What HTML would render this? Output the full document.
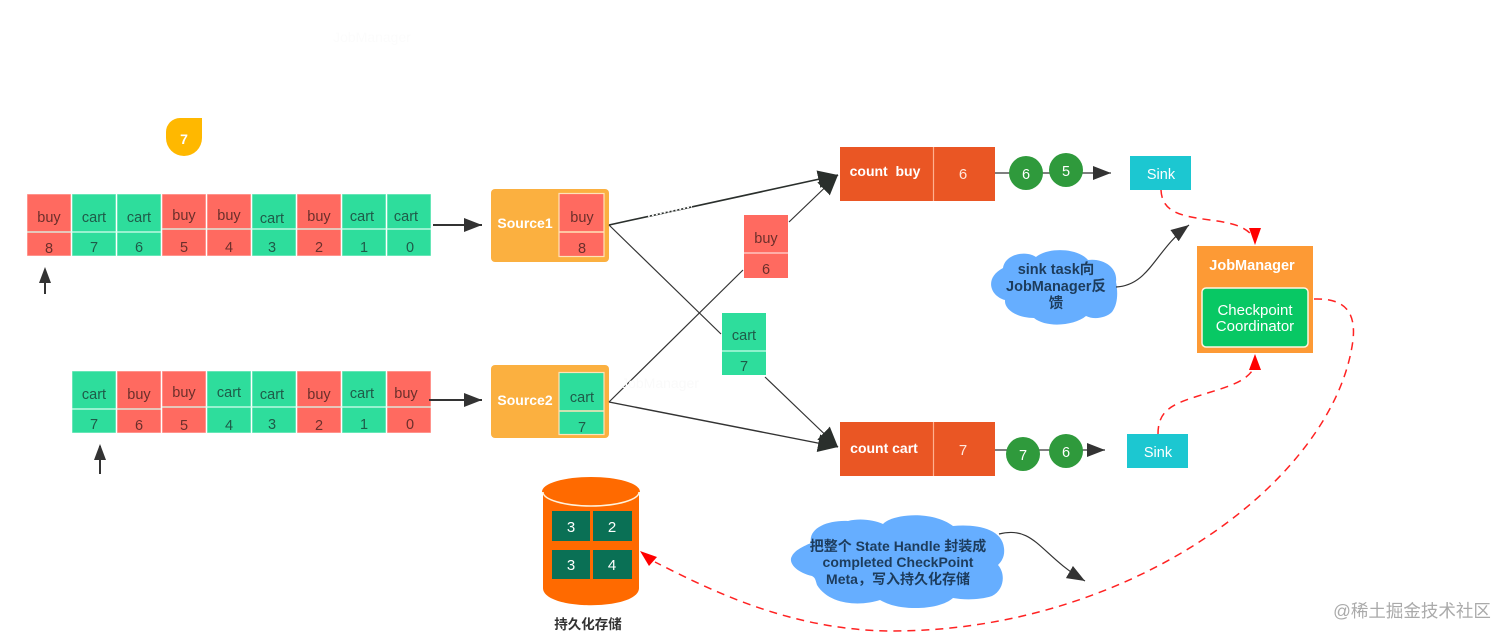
<!DOCTYPE html>
<html><head><meta charset="utf-8"><style>
html,body{margin:0;padding:0;background:#fff;width:1512px;height:641px;overflow:hidden}
svg{display:block}
text{font-family:"Liberation Sans","Noto Sans CJK SC",sans-serif;text-anchor:middle}
.c{font-size:14.5px;fill:#5a3a36}
.g{fill:#1f5a48}
.r{fill:#6b2f2b}
.cl{font-size:14px;font-weight:700;fill:#1d3c5c}
</style></head><body>
<svg width="1512" height="641" viewBox="0 0 1512 641" xmlns="http://www.w3.org/2000/svg">
<defs>
<marker id="ar" markerUnits="userSpaceOnUse" markerWidth="20" markerHeight="14" refX="18" refY="7" orient="auto"><path d="M0 0L18 7L0 14z" fill="#333"/></marker>
<marker id="ab" markerUnits="userSpaceOnUse" markerWidth="22" markerHeight="20" refX="20" refY="10" orient="auto"><path d="M0 1L20 10L0 19z" fill="#2a2f2c"/></marker>
</defs>
<text x="372" y="42" font-size="14" fill="#fcfcfc">JobManager</text>
<path d="M180 118H202V138A18 18 0 0 1 166 138V132A14 14 0 0 1 180 118Z" fill="#ffb800"/>
<text x="184" y="144" font-size="14" font-weight="700" fill="#fff">7</text>

<!-- row 1 -->
<g stroke="#fff" stroke-opacity=".55" stroke-width="1">
<rect x="27" y="194" width="44" height="62" fill="#ff6a60"/>
<rect x="72" y="194" width="44" height="62" fill="#2edd9c"/>
<rect x="117" y="194" width="44" height="62" fill="#2edd9c"/>
<rect x="162" y="194" width="44" height="62" fill="#ff6a60"/>
<rect x="207" y="194" width="44" height="62" fill="#ff6a60"/>
<rect x="252" y="194" width="44" height="62" fill="#2edd9c"/>
<rect x="297" y="194" width="44" height="62" fill="#ff6a60"/>
<rect x="342" y="194" width="44" height="62" fill="#2edd9c"/>
<rect x="387" y="194" width="44" height="62" fill="#2edd9c"/>
</g>
<path d="M27 232H161M162 229H431" stroke="#d8fff0" stroke-width="1.2"/>
<g class="c">
<text class="r" x="49" y="222">buy</text><text class="g" x="94" y="222">cart</text><text class="g" x="139" y="222">cart</text><text class="r" x="184" y="220">buy</text><text class="r" x="229" y="220">buy</text><text class="g" x="272" y="223">cart</text><text class="r" x="319" y="221">buy</text><text class="g" x="362" y="221">cart</text><text class="g" x="406" y="221">cart</text>
<text class="r" x="49" y="253">8</text><text class="g" x="94" y="252">7</text><text class="g" x="139" y="252">6</text><text class="r" x="184" y="252">5</text><text class="r" x="229" y="252">4</text><text class="g" x="272" y="252">3</text><text class="r" x="319" y="252">2</text><text class="g" x="364" y="252">1</text><text class="g" x="410" y="252">0</text>
</g>

<!-- row 2 -->
<g stroke="#fff" stroke-opacity=".55" stroke-width="1">
<rect x="72" y="371" width="44" height="62" fill="#2edd9c"/>
<rect x="117" y="371" width="44" height="62" fill="#ff6a60"/>
<rect x="162" y="371" width="44" height="62" fill="#ff6a60"/>
<rect x="207" y="371" width="44" height="62" fill="#2edd9c"/>
<rect x="252" y="371" width="44" height="62" fill="#2edd9c"/>
<rect x="297" y="371" width="44" height="62" fill="#ff6a60"/>
<rect x="342" y="371" width="44" height="62" fill="#2edd9c"/>
<rect x="387" y="371" width="44" height="62" fill="#ff6a60"/>
</g>
<path d="M72 409H161M162 407H431" stroke="#d8fff0" stroke-width="1.2"/>
<g class="c">
<text class="g" x="94" y="399">cart</text><text class="r" x="139" y="399">buy</text><text class="r" x="184" y="397">buy</text><text class="g" x="229" y="397">cart</text><text class="g" x="272" y="399">cart</text><text class="r" x="319" y="399">buy</text><text class="g" x="362" y="398">cart</text><text class="r" x="406" y="398">buy</text>
<text class="g" x="94" y="429">7</text><text class="r" x="139" y="430">6</text><text class="r" x="184" y="430">5</text><text class="g" x="229" y="430">4</text><text class="g" x="272" y="429">3</text><text class="r" x="319" y="430">2</text><text class="g" x="364" y="429">1</text><text class="r" x="410" y="429">0</text>
</g>

<!-- pointer arrows -->
<path d="M45 294V270" stroke="#333" stroke-width="2" fill="none"/><path d="M45 267L39 283H51Z" fill="#333"/>
<path d="M100 474V446" stroke="#333" stroke-width="2" fill="none"/><path d="M100 444L94 460H106Z" fill="#333"/>
<path d="M433 225H482" stroke="#333" stroke-width="2" marker-end="url(#ar)" fill="none"/>
<path d="M429 400H482" stroke="#333" stroke-width="2" marker-end="url(#ar)" fill="none"/>

<!-- sources -->
<rect x="491" y="189" width="118" height="73" rx="4" fill="#fbb040"/>
<rect x="491" y="365" width="118" height="73" rx="4" fill="#fbb040"/>
<text x="525" y="228" font-size="14" font-weight="700" fill="#fff">Source1</text>
<text x="525" y="405" font-size="14" font-weight="700" fill="#fff">Source2</text>
<rect x="559" y="193.500" width="45" height="63" fill="#ff6a60" stroke="#ffe3b8" stroke-width="1.200"/>
<path d="M559 232H604" stroke="#ffe3b8" stroke-width="1.500"/>
<text class="c r" x="582" y="222">buy</text><text class="c r" x="582" y="253">8</text>
<rect x="559" y="372.500" width="45" height="62" fill="#2edd9c" stroke="#ffe3b8" stroke-width="1.200"/>
<path d="M559 411H604" stroke="#ffe3b8" stroke-width="1.500"/>
<text class="c g" x="582" y="402">cart</text><text class="c g" x="582" y="432">7</text>

<!-- lines -->
<path d="M609 225L838 175" stroke="#2a2f2c" stroke-width="1.600" fill="none" marker-end="url(#ab)"/>
<path d="M609 225L721 334" stroke="#333" stroke-width="1.200" fill="none"/>
<path d="M609 402L743 270" stroke="#333" stroke-width="1.200" fill="none"/>
<path d="M609 402L838 447" stroke="#333" stroke-width="1.400" fill="none" marker-end="url(#ab)"/>
<path d="M789 222L838 175" stroke="#333" stroke-width="1.200" fill="none" marker-end="url(#ab)"/>
<path d="M765 377L838 447" stroke="#333" stroke-width="1.200" fill="none" marker-end="url(#ab)"/>
<path d="M648 216.300L692 206.700" stroke="#fff" stroke-width="1.400" stroke-dasharray="2 2" fill="none"/>
<text x="660" y="388" font-size="14" fill="#fafafa">JobManager</text>

<!-- moving records -->
<rect x="744" y="215" width="44" height="63" fill="#ff6a60"/><path d="M744 253H788" stroke="#ffd8d2" stroke-width="1.200"/>
<text class="c r" x="766" y="243">buy</text><text class="c r" x="766" y="274">6</text>
<rect x="722" y="313" width="44" height="62" fill="#2edd9c"/><path d="M722 351H766" stroke="#c8ffe8" stroke-width="1.200"/>
<text class="c g" x="744" y="340">cart</text><text class="c g" x="744" y="371">7</text>

<!-- operators -->
<rect x="840" y="147" width="155" height="54" fill="#ea5624"/><path d="M933.500 147V201" stroke="#ffb090" stroke-width="1.200"/>
<text x="885" y="176" font-size="14" font-weight="700" fill="#fff" xml:space="preserve">count  buy</text>
<text x="963" y="179" font-size="15" fill="#ffe8dc">6</text>
<rect x="840" y="422" width="155" height="54" fill="#ea5624"/><path d="M933.500 422V476" stroke="#ffb090" stroke-width="1.200"/>
<text x="884" y="453" font-size="14" font-weight="700" fill="#fff">count cart</text>
<text x="963" y="455" font-size="15" fill="#ffe8dc">7</text>

<path d="M995 173H1111" stroke="#333" stroke-width="1.300" fill="none" marker-end="url(#ar)"/>
<path d="M995 450H1105" stroke="#555" stroke-width="1.500" fill="none" marker-end="url(#ar)"/>
<circle cx="1026" cy="173" r="17" fill="#2f9a3c"/><circle cx="1066" cy="170" r="17" fill="#2f9a3c"/>
<circle cx="1023" cy="454" r="17" fill="#2f9a3c"/><circle cx="1066" cy="451" r="17" fill="#2f9a3c"/>
<g font-size="14.500" fill="#fff"><text x="1026" y="179">6</text><text x="1066" y="176">5</text><text x="1023" y="460">7</text><text x="1066" y="457">6</text></g>

<rect x="1130" y="156" width="61" height="34" fill="#1cc7d1"/><text x="1161" y="179" font-size="14.500" fill="#fff">Sink</text>
<rect x="1127" y="434" width="61" height="34" fill="#1cc7d1"/><text x="1158" y="457" font-size="14.500" fill="#fff">Sink</text>

<!-- JobManager -->
<rect x="1197" y="246" width="116" height="107" fill="#fd9a35"/>
<text x="1252" y="270" font-size="14.500" font-weight="700" fill="#fff">JobManager</text>
<rect x="1202" y="288" width="106" height="59" rx="4" fill="#08c864" stroke="#fff5e0" stroke-width="1.500"/>
<text x="1255" y="315" font-size="15" fill="#fff">Checkpoint</text>
<text x="1255" y="331" font-size="15" fill="#fff">Coordinator</text>

<!-- red dashed -->
<g fill="none" stroke="#f22" stroke-width="1.500" stroke-dasharray="8 6">
<path d="M1161 190C1162 212 1180 216 1210 220C1232 223 1246 226 1254 238"/>
<path d="M1158 434C1158 412 1170 405 1195 397C1222 388 1245 384 1254 368"/>
<path d="M1314 299C1345 298 1356 312 1353 340C1335 480 1130 632 890 631C790 630 710 590 655 562"/>
</g>
<path d="M1249 228H1261L1255 245Z" fill="#f00"/>
<path d="M1255 354L1261 370H1249Z" fill="#f00"/>
<path d="M640 551L657 557L649 566Z" fill="#f00"/>

<!-- cloud 1 -->
<path d="M1003 268C1005 254 1026 250 1036 257C1048 247 1078 248 1088 260C1104 258 1118 268 1116 282C1118 292 1118 304 1112 312C1106 318 1094 320 1086 316C1074 326 1046 328 1034 318C1018 318 1004 310 1005 300C990 296 984 278 1003 268Z" fill="#66aeff"/>
<g class="cl" style="font-size:14.5px"><text x="1056" y="274">sink task向</text><text x="1056" y="291">JobManager反</text><text x="1056" y="308">馈</text></g>
<path d="M1116 287C1150 285 1155 250 1189 225" stroke="#333" stroke-width="1.200" fill="none" marker-end="url(#ar)"/>

<!-- cloud 2 -->
<path d="M811 543C808 528 828 520 848 521C860 518 874 520 883 524C892 514 932 510 953 526C975 524 1002 528 1004 548C1005 556 1002 561 998 565C1006 574 1004 590 992 596C980 600 964 600 953 598C940 610 900 612 880 600C862 606 830 606 817 585C815 578 815 578 812 576C795 572 788 562 792 556C795 550 804 546 811 543Z" fill="#66aeff"/>
<g class="cl"><text x="898" y="551" xml:space="preserve">把整个 State Handle 封装成</text><text x="898" y="567">completed CheckPoint</text><text x="898" y="584">Meta，写入持久化存储</text></g>
<path d="M999 534C1035 525 1040 555 1085 581" stroke="#333" stroke-width="1.200" fill="none" marker-end="url(#ar)"/>

<!-- cylinder -->
<path d="M543 492V588C543 611 639 611 639 588V492Z" fill="#ff6a00"/>
<ellipse cx="591" cy="492" rx="48" ry="14" fill="#ff6a00" stroke="#fff2dc" stroke-width="1.500"/>
<path d="M543 492A48 14 0 0 1 639 492" fill="#ff6a00" stroke="#ff6a00" stroke-width="2"/>
<g fill="#0a7055">
<rect x="552" y="511" width="38" height="30"/><rect x="593" y="511" width="39" height="30"/>
<rect x="552" y="550" width="38" height="29"/><rect x="593" y="550" width="39" height="29"/>
</g>
<g font-size="15" fill="#fff"><text x="571" y="532">3</text><text x="612" y="532">2</text><text x="571" y="570">3</text><text x="612" y="570">4</text></g>
<text x="588" y="629" font-size="13.500" font-weight="700" fill="#333">持久化存储</text>

<text x="1412" y="617" font-size="17.500" fill="#aaa">@稀土掘金技术社区</text>
</svg>
</body></html>
